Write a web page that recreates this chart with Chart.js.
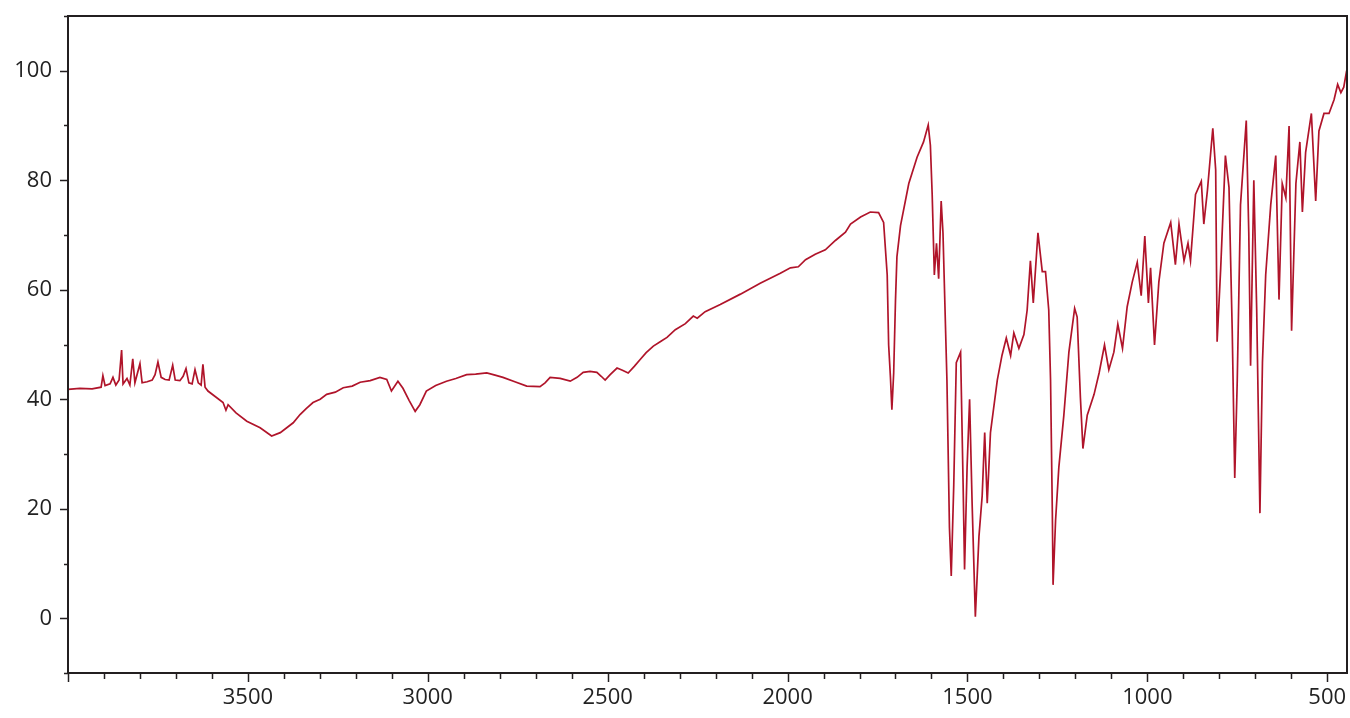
<!DOCTYPE html>
<html>
<head>
<meta charset="utf-8">
<script src="https://cdn.jsdelivr.net/npm/chart.js@4/dist/chart.umd.min.js"></script>
<style>
  html, body { margin: 0; padding: 0; background: #fff; }
  #wrap { width: 1350px; height: 718px; }
</style>
</head>
<body>
<div id="wrap"><canvas id="spectrum"></canvas></div>
<script>
// wavenumber (cm-1) and transmittance (%)
const wavenumbers = [
  4000, 3967, 3933, 3908, 3903, 3897, 3883, 3875, 3867, 3858, 3851, 3847, 3836, 3828, 3820, 3814,
  3800, 3794, 3780, 3766, 3758, 3750, 3741, 3730, 3719, 3709, 3702, 3689, 3680, 3672, 3664, 3655,
  3647, 3638, 3630, 3625, 3619, 3611, 3591, 3569, 3561, 3555, 3533, 3503, 3466, 3434, 3410, 3374,
  3355, 3338, 3319, 3299, 3281, 3257, 3235, 3210, 3188, 3160, 3133, 3114, 3101, 3083, 3069, 3052,
  3035, 3022, 3004, 2978, 2948, 2922, 2892, 2867, 2836, 2813, 2791, 2758, 2725, 2688, 2674, 2660,
  2632, 2604, 2585, 2568, 2549, 2530, 2518, 2507, 2493, 2474, 2459, 2443, 2426, 2409, 2393, 2373,
  2354, 2335, 2312, 2284, 2262, 2251, 2229, 2187, 2131, 2076, 2020, 1992, 1970, 1950, 1923, 1895,
  1867, 1839, 1825, 1797, 1770, 1747, 1733, 1723, 1719, 1714, 1710, 1705, 1700, 1696, 1686, 1663,
  1640, 1622, 1609, 1603, 1598, 1592, 1586, 1580, 1573, 1568, 1557, 1550, 1545, 1538, 1531, 1519,
  1512, 1508, 1501, 1494, 1487, 1478, 1468, 1459, 1452, 1445, 1436, 1417, 1404, 1392, 1380, 1371,
  1357, 1343, 1334, 1325, 1317, 1304, 1292, 1283, 1274, 1269, 1264, 1262, 1255, 1246, 1232, 1218,
  1202, 1195, 1186, 1179, 1167, 1148, 1134, 1119, 1107, 1093, 1082, 1069, 1056, 1042, 1028, 1017,
  1007, 997, 991, 980, 968, 954, 935, 922, 912, 898, 887, 880, 866, 850, 843, 833,
  818, 810, 806, 796, 783, 773, 764, 757, 750, 741, 725, 718, 713, 704, 696, 687,
  680, 671, 657, 643, 634, 625, 615, 606, 599, 587, 576, 569, 560, 544, 532, 523,
  509, 495, 481, 471, 462, 454, 446
];
const transmittance = [
  41.8, 42.0, 41.9, 42.2, 44.3, 42.5, 42.8, 44.0, 42.6, 43.5, 49.0, 42.8, 43.8, 42.6, 47.4, 43.0,
  46.5, 43.0, 43.2, 43.5, 44.5, 46.8, 44.0, 43.6, 43.5, 46.2, 43.5, 43.4, 44.2, 45.6, 43.0, 42.8,
  45.4, 43.0, 42.6, 46.4, 42.2, 41.5, 40.5, 39.4, 38.0, 39.0, 37.5, 36.0, 34.8, 33.3, 33.9, 35.7,
  37.2, 38.3, 39.4, 40.0, 40.9, 41.3, 42.1, 42.4, 43.1, 43.4, 44.0, 43.6, 41.5, 43.3, 42.0, 39.8,
  37.8, 39.0, 41.5, 42.5, 43.3, 43.8, 44.5, 44.6, 44.8, 44.4, 44.0, 43.2, 42.4, 42.3, 43.0, 44.0,
  43.8, 43.3, 44.0, 44.9, 45.1, 44.9, 44.2, 43.5, 44.5, 45.7, 45.3, 44.8, 46.0, 47.3, 48.5, 49.7,
  50.5, 51.3, 52.7, 53.8, 55.2, 54.8, 56.0, 57.3, 59.2, 61.2, 63.0, 64.0, 64.2, 65.5, 66.5, 67.3,
  69.0, 70.5, 72.0, 73.3, 74.2, 74.1, 72.3, 62.7, 49.9, 44.0, 38.1, 44.8, 58.0, 66.0, 71.7, 79.4,
  84.2, 87.0, 90.1, 86.4, 77.4, 62.7, 68.5, 62.0, 76.2, 70.4, 43.5, 16.6, 7.7, 24.4, 46.7, 48.6,
  24.4, 8.9, 27.5, 40.0, 21.0, 0.3, 14.9, 22.4, 33.9, 21.0, 33.9, 43.5, 48.0, 51.2, 48.0, 52.1,
  49.3, 51.8, 56.3, 65.3, 57.6, 70.4, 63.3, 63.3, 56.3, 43.5, 19.2, 6.1, 17.9, 27.5, 37.1, 48.6,
  56.6, 55.0, 40.3, 31.0, 37.1, 40.9, 44.8, 49.9, 45.4, 48.6, 53.7, 49.3, 56.9, 61.4, 65.0, 58.9,
  69.8, 57.6, 64.0, 49.9, 61.4, 68.5, 72.3, 64.6, 72.0, 65.3, 68.5, 65.3, 77.4, 79.8, 72.0, 78.1,
  89.5, 81.9, 50.5, 64.0, 84.5, 78.7, 52.5, 25.6, 43.5, 75.5, 90.9, 70.4, 46.1, 80.0, 56.3, 19.2,
  46.7, 62.7, 75.5, 84.5, 58.2, 79.4, 76.8, 89.9, 52.5, 79.4, 87.0, 74.2, 85.1, 92.2, 76.2, 89.0,
  92.2, 92.2, 94.7, 97.5, 96.0, 97.0, 100.0
];
const xLabelStep = 500;
const yLabelStep = 20;

const axisColor = "#231f20";

// box round the plot plus outward tick marks (major longer than minor)
const framePlugin = {
  id: "frame",
  afterDraw(chart) {
    const ctx = chart.ctx;
    const a = chart.chartArea;
    ctx.save();
    ctx.strokeStyle = axisColor;
    ctx.lineWidth = 2;
    ctx.strokeRect(a.left, a.top, a.right - a.left, a.bottom - a.top);
    ctx.lineWidth = 1.5;
    const xs = chart.scales.x;
    xs.ticks.forEach((t) => {
      const px = Math.round(xs.getPixelForValue(t.value)) + 0.5;
      const len = t.value % xLabelStep === 0 ? 9 : 6;
      ctx.beginPath();
      ctx.moveTo(px, a.bottom);
      ctx.lineTo(px, a.bottom + len);
      ctx.stroke();
    });
    const ys = chart.scales.y;
    ys.ticks.forEach((t) => {
      const py = Math.round(ys.getPixelForValue(t.value)) + 0.5;
      const len = t.value % yLabelStep === 0 ? 8 : 4;
      ctx.beginPath();
      ctx.moveTo(a.left, py);
      ctx.lineTo(a.left - len, py);
      ctx.stroke();
    });
    ctx.restore();
  },
};

new Chart(document.getElementById("spectrum"), {
  type: "line",
  data: {
    datasets: [
      {
        data: wavenumbers.map((w, i) => ({ x: w, y: transmittance[i] })),
        borderColor: "#b0142a",
        borderWidth: 1.7,
        pointRadius: 0,
        tension: 0,
        fill: false,
      },
    ],
  },
  options: {
    responsive: true,
    maintainAspectRatio: false,
    animation: false,
    events: [],
    layout: { padding: { top: 16, right: 3, left: 0, bottom: 0 } },
    plugins: { legend: { display: false }, tooltip: { enabled: false } },
    scales: {
      x: {
        type: "linear",
        reverse: true,
        min: 445,
        max: 4000,
        border: { display: false },
        grid: { drawOnChartArea: false, drawTicks: true, tickLength: 9, tickColor: "rgba(0,0,0,0)" },
        ticks: {
          stepSize: 100,
          includeBounds: false,
          autoSkip: false,
          maxRotation: 0,
          padding: 3,
          color: "#222",
          font: { family: "Open Sans", size: 22 },
          callback: (v) => (v % xLabelStep === 0 && v < 4000 ? String(v) : ""),
        },
        afterFit: (s) => {
          s.height = 45;
          s.paddingLeft = 0;
          s.paddingRight = 0;
        },
      },
      y: {
        min: -10,
        max: 110,
        border: { display: false },
        grid: { drawOnChartArea: false, drawTicks: true, tickLength: 8, tickColor: "rgba(0,0,0,0)" },
        ticks: {
          stepSize: 10,
          autoSkip: false,
          padding: 8,
          color: "#222",
          font: { family: "Open Sans", size: 22 },
          callback: (v) => (v % yLabelStep === 0 && v >= 0 && v <= 100 ? String(v) : ""),
        },
        afterFit: (s) => {
          s.width = 68;
          s.paddingTop = 0;
          s.paddingBottom = 0;
        },
      },
    },
  },
  plugins: [framePlugin],
});
</script>
</body>
</html>
